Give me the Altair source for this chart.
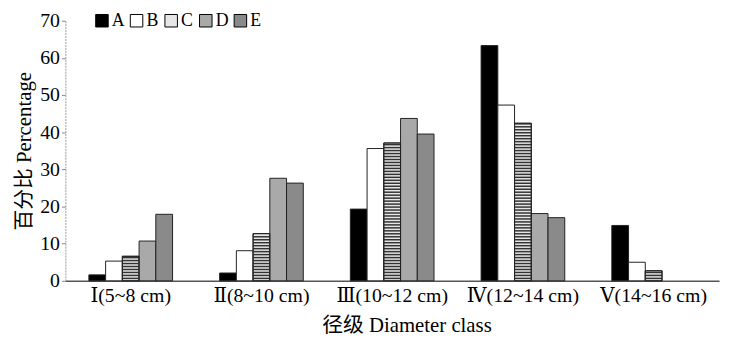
import altair as alt
import pandas as pd

classes = ["Ⅰ(5~8 cm)", "Ⅱ(8~10 cm)", "Ⅲ(10~12 cm)", "Ⅳ(12~14 cm)", "Ⅴ(14~16 cm)"]
series = ["A", "B", "C", "D", "E"]
A = [1.6, 2.1, 19.3, 63.3, 14.9]
B = [5.3, 8.1, 35.6, 47.3, 5.0]
C = [6.6, 12.7, 37.1, 42.4, 2.7]
D = [10.7, 27.6, 43.7, 18.1, 0]
E = [17.9, 26.3, 39.5, 17.0, 0]
fills = ["#000000", "#ffffff", "#e6e6e6", "#a9a9a9", "#8a8a8a"]

rows = []
for s, vals in zip(series, [A, B, C, D, E]):
    for c, v in zip(classes, vals):
        if v > 0:
            rows.append({"cls": c, "s": s, "v": v})
df = pd.DataFrame(rows)

# horizontal stripes for series C, derived from its values
stripe_rows = []
for c, v in zip(classes, C):
    lv = 0.45
    while lv + 0.35 < v:
        stripe_rows.append({"cls": c, "s": "C", "v": lv, "y1": lv + 0.4})
        lv += 0.8
sdf = pd.DataFrame(stripe_rows)

FONT = "Liberation Serif, DejaVu Serif, Noto Sans CJK SC, serif"
XFONT = "Liberation Serif, DejaVu Serif, serif"

xaxis = alt.Axis(title="径级  Diameter class", labelAngle=0, ticks=False,
                 labelFont=XFONT, labelFontSize=20, labelColor="black",
                 labelPadding=5, domainColor="#555555", domainWidth=1.5,
                 labelOverlap=False,
                 titleFont=FONT, titleFontSize=21, titleFontWeight="normal",
                 titleColor="black", titlePadding=9, titleX=345)
yaxis = alt.Axis(title="百分比 Percentage", values=list(range(0, 71, 10)),
                 labelOverlap=False,
                 grid=False, tickSize=4, tickColor="#888888",
                 domainColor="#999999", domainDash=[2, 1],
                 labelFont=FONT, labelFontSize=20, labelColor="black",
                 labelPadding=2,
                 titleFont=FONT, titleFontSize=21, titleFontWeight="normal",
                 titleColor="black", titlePadding=5)
xscale = alt.Scale(paddingInner=0.36, paddingOuter=0.18)
yscale = alt.Scale(domain=[0, 70], nice=False)
xoscale = alt.Scale(domain=series, paddingInner=0, paddingOuter=0)


def xenc():
    return alt.X("cls:N", sort=classes, scale=xscale, axis=xaxis)


def yenc():
    return alt.Y("v:Q", scale=yscale, axis=yaxis)


bars = alt.Chart(df).mark_bar(stroke="#222222", strokeWidth=1).encode(
    x=xenc(),
    xOffset=alt.XOffset("s:N", scale=xoscale),
    y=yenc(),
    fill=alt.Fill("s:N", scale=alt.Scale(domain=series, range=fills),
                  legend=alt.Legend(title=None, orient="none", legendX=28, legendY=-9,
                                    direction="horizontal", columns=5,
                                    symbolType="square", symbolSize=160,
                                    symbolStrokeColor="black", symbolStrokeWidth=1,
                                    symbolOpacity=1,
                                    labelFont=FONT, labelFontSize=18, labelColor="black",
                                    labelOffset=1, columnPadding=3)),
)

stripes = alt.Chart(sdf).mark_bar(color="#333333").encode(
    x=xenc(),
    xOffset=alt.XOffset("s:N", scale=xoscale),
    y=yenc(),
    y2="y1:Q",
)

outline = alt.Chart(df[df.s == "C"]).mark_bar(fillOpacity=0, stroke="#222222", strokeWidth=1).encode(
    x=xenc(),
    xOffset=alt.XOffset("s:N", scale=xoscale),
    y=yenc(),
)

chart = alt.layer(bars, stripes, outline).properties(
    width=661, height=263,
    background="white",
    autosize=alt.AutoSizeParams(type="none"),
    padding={"left": 58, "top": 11, "right": 2, "bottom": 60},
).configure_view(stroke=None)

chart.save("out.html", embed_options={"renderer": "svg", "actions": False})
